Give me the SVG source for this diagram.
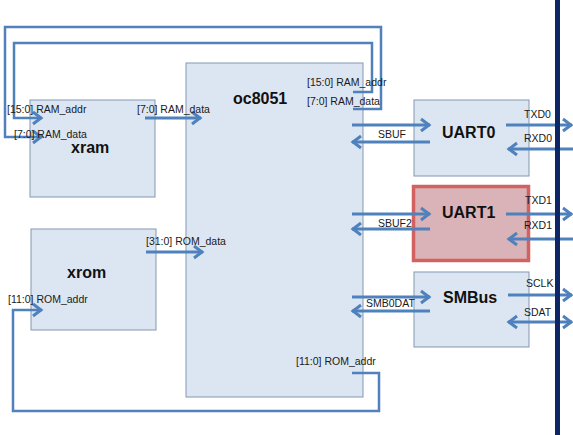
<svg xmlns="http://www.w3.org/2000/svg" width="573" height="435" viewBox="0 0 573 435">
  <style>
    .blk { fill: #dce6f2; stroke: #8497b0; stroke-width: 1; }
    .hot { fill: #d9b3b7; stroke: #d2615f; stroke-width: 3.5; }
    .title { font-family: "Liberation Sans", Arial, sans-serif; font-weight: bold; font-size: 16px; fill: #111; }
    .lbl { font-family: "Liberation Sans", Arial, sans-serif; font-size: 10.5px; fill: #1a1a1a; }
    .wire { fill: none; stroke: #4f81bd; stroke-width: 3; }
    .loop { fill: none; stroke: #4f81bd; stroke-width: 2.5; }
  </style>
  <defs>
    <marker id="head" markerUnits="userSpaceOnUse" markerWidth="16" markerHeight="16" viewBox="-12 -8 16 16" refX="0" refY="0" orient="auto-start-reverse">
      <path d="M-9,-6 L-1,0 L-9,6" fill="none" stroke="#4f81bd" stroke-width="3"/>
    </marker>
  </defs>

  <rect width="573" height="435" fill="#ffffff"/>

  <!-- blocks -->
  <g id="xram">
    <rect class="blk" x="30" y="100" width="125" height="97"/>
    <text class="title" x="71" y="153">xram</text>
  </g>
  <g id="xrom">
    <rect class="blk" x="31" y="229" width="125" height="101"/>
    <text class="title" x="67" y="278">xrom</text>
  </g>
  <g id="oc8051">
    <rect class="blk" x="186" y="63" width="177" height="334"/>
    <text class="title" x="233" y="104">oc8051</text>
  </g>
  <g id="uart0">
    <rect class="blk" x="414" y="100" width="115" height="76"/>
    <text class="title" x="442" y="138">UART0</text>
  </g>
  <g id="uart1">
    <rect class="hot" x="413.5" y="186.5" width="115" height="74"/>
    <text class="title" x="442" y="218">UART1</text>
  </g>
  <g id="smbus">
    <rect class="blk" x="414" y="272" width="115" height="75"/>
    <text class="title" x="443" y="303">SMBus</text>
  </g>

  <!-- connectors -->
  <g id="connectors">
    <!-- RAM bus loops back over the top -->
    <polyline class="loop" points="353,92 372,92 372,43 14,43 14,118 42,118" marker-end="url(#head)"/>
    <polyline class="loop" points="353,109 381,109 381,27 5,27 5,137 42,137" marker-end="url(#head)"/>
    <line class="wire" x1="145" y1="118" x2="201" y2="118" marker-end="url(#head)"/>
    <line class="wire" x1="146" y1="252" x2="203" y2="252" marker-end="url(#head)"/>
    <!-- ROM address loops under the core -->
    <polyline class="loop" points="352,373 379,373 379,411 13,411 13,310 42,310" marker-end="url(#head)"/>

    <!-- UART0 -->
    <line class="wire" x1="352" y1="125" x2="430" y2="125" marker-end="url(#head)"/>
    <line class="wire" x1="430" y1="142" x2="352" y2="142" marker-end="url(#head)"/>
    <line class="wire" x1="506" y1="125" x2="572" y2="125" marker-end="url(#head)"/>
    <line class="wire" x1="573" y1="149" x2="508" y2="149" marker-end="url(#head)"/>
    <!-- UART1 -->
    <line class="wire" x1="352" y1="214" x2="430" y2="214" marker-end="url(#head)"/>
    <line class="wire" x1="430" y1="229" x2="352" y2="229" marker-end="url(#head)"/>
    <line class="wire" x1="506" y1="214" x2="572" y2="214" marker-end="url(#head)"/>
    <line class="wire" x1="573" y1="239" x2="508" y2="239" marker-end="url(#head)"/>
    <!-- SMBus -->
    <line class="wire" x1="352" y1="297" x2="430" y2="297" marker-end="url(#head)"/>
    <line class="wire" x1="430" y1="311" x2="352" y2="311" marker-end="url(#head)"/>
    <line class="wire" x1="508" y1="295" x2="572" y2="295" marker-end="url(#head)"/>
    <line class="wire" x1="508" y1="322" x2="572" y2="322" marker-start="url(#head)" marker-end="url(#head)"/>

    <!-- external pin bus -->
    <rect x="555" y="0" width="5" height="435" fill="#0d2766"/>
  </g>

  <!-- signal labels -->
  <g id="labels">
    <text class="lbl" x="7" y="113">[15:0] RAM_addr</text>
    <text class="lbl" x="14" y="138">[7:0] RAM_data</text>
    <text class="lbl" x="137" y="113">[7:0] RAM_data</text>
    <text class="lbl" x="307" y="86">[15:0] RAM_addr</text>
    <text class="lbl" x="307" y="105">[7:0] RAM_data</text>
    <text class="lbl" x="146" y="245">[31:0] ROM_data</text>
    <text class="lbl" x="8" y="303">[11:0] ROM_addr</text>
    <text class="lbl" x="296" y="365">[11:0] ROM_addr</text>
    <text class="lbl" x="378" y="138">SBUF</text>
    <text class="lbl" x="524" y="118">TXD0</text>
    <text class="lbl" x="524" y="142">RXD0</text>
    <text class="lbl" x="378" y="227">SBUF2</text>
    <text class="lbl" x="525" y="204">TXD1</text>
    <text class="lbl" x="524" y="229">RXD1</text>
    <text class="lbl" x="366" y="307">SMB0DAT</text>
    <text class="lbl" x="526" y="287">SCLK</text>
    <text class="lbl" x="524" y="316">SDAT</text>
  </g>
</svg>
